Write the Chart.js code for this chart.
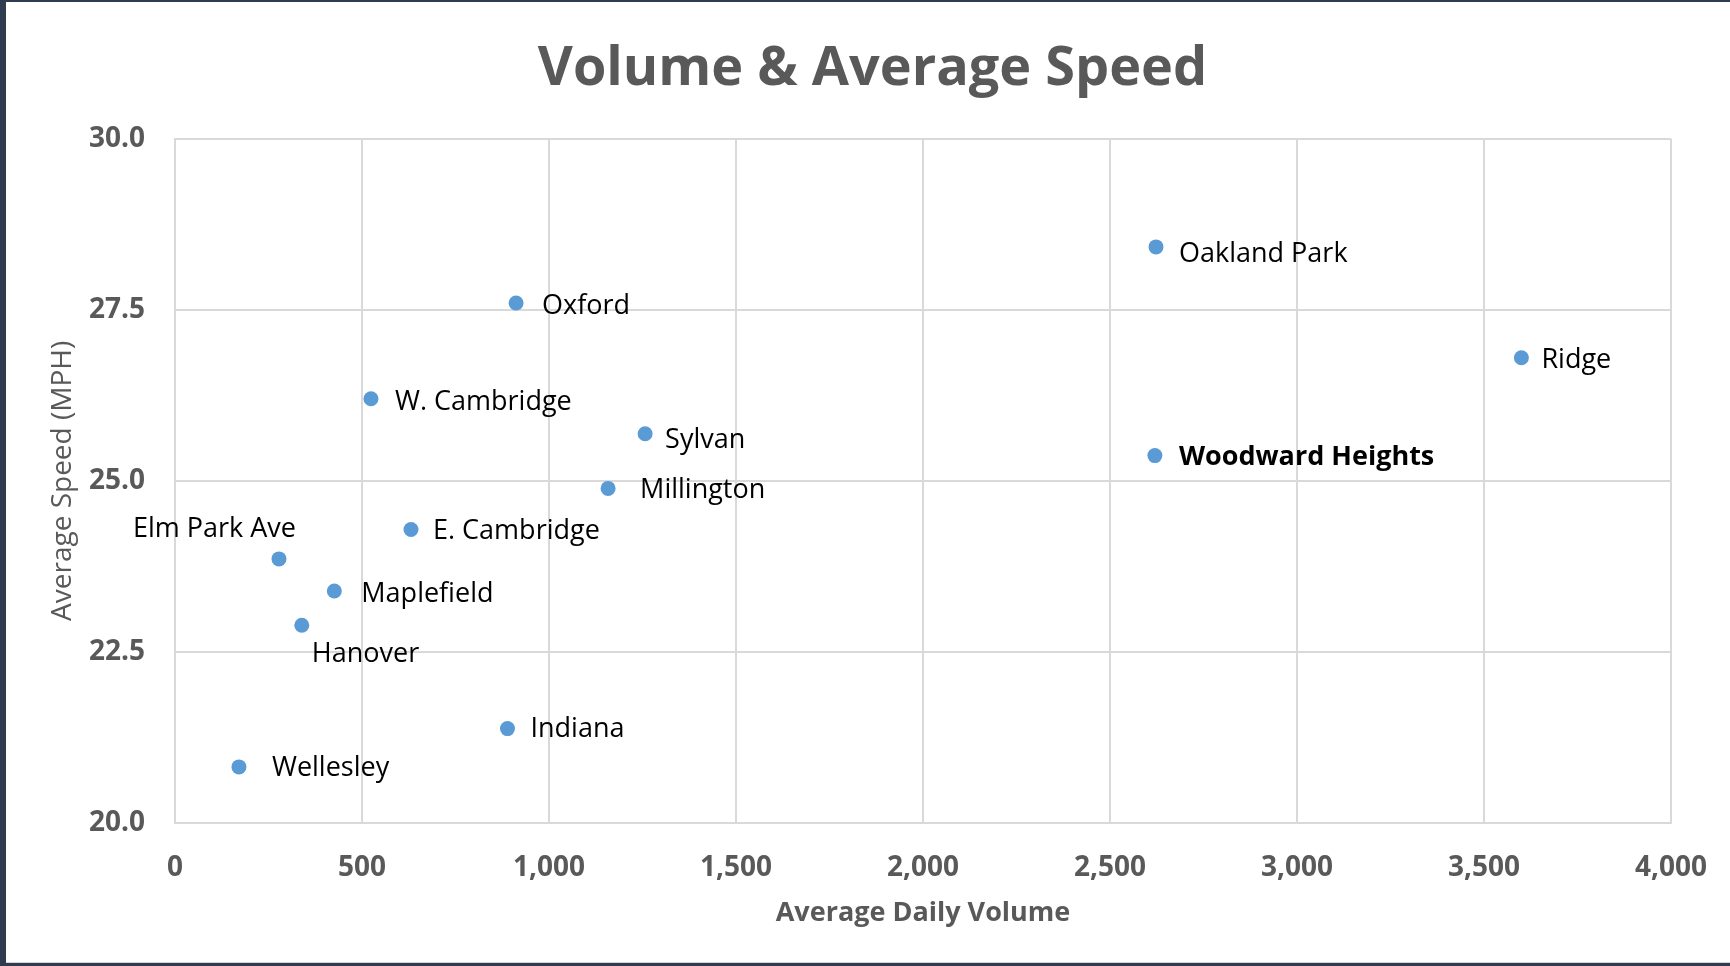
<!DOCTYPE html>
<html>
<head>
<meta charset="utf-8">
<title>Volume & Average Speed</title>
<script src="https://cdn.jsdelivr.net/npm/chart.js@4.4.1/dist/chart.umd.min.js"></script>
<style>
  html, body { margin: 0; padding: 0; }
  body { width: 1730px; height: 966px; background: #2f3b4e; position: relative; overflow: hidden; }
  #frame {
    position: absolute; left: 6px; top: 2px;
    width: 1724px; height: 960px;
    background: #ffffff;
    border-bottom: 1px solid #d4d4d4;
  }
</style>
</head>
<body>
<div id="frame"><canvas id="scatter"></canvas></div>
<script>
// Road segments, daily volume and average speed
const names = ['Wellesley', 'Indiana', 'Oxford', 'W. Cambridge', 'Sylvan', 'Millington',
  'E. Cambridge', 'Oakland Park', 'Woodward Heights', 'Ridge', 'Elm Park Ave', 'Maplefield', 'Hanover'];
const volume = [171, 889, 912, 524, 1257, 1158, 631, 2623, 2620, 3600, 278, 426, 339];
const speed = [20.82, 21.38, 27.60, 26.20, 25.69, 24.89, 24.29, 28.42, 25.37, 26.80, 23.86, 23.39, 22.89];

const xTicks = [0, 500, 1000, 1500, 2000, 2500, 3000, 3500, 4000];
const yTicks = [20.0, 22.5, 25.0, 27.5, 30.0];

const FONT = "'Open Sans', sans-serif";
const GRAY = '#595959';
const GRID = '#d9d9d9';
const DOT = '#5b9bd5';

// where each label sits relative to its dot (px)
const labelPlacement = {
  'Wellesley': { dx: 33, dy: 1 },
  'Indiana': { dx: 23, dy: 1 },
  'Oxford': { dx: 26, dy: 3 },
  'W. Cambridge': { dx: 24, dy: 4 },
  'Sylvan': { dx: 20, dy: 7 },
  'Millington': { dx: 32, dy: 2 },
  'E. Cambridge': { dx: 22, dy: 2 },
  'Oakland Park': { dx: 23, dy: 7 },
  'Woodward Heights': { dx: 24, dy: 2, bold: true },
  'Ridge': { dx: 20, dy: 3 },
  'Elm Park Ave': { dx: 17, dy: -30, align: 'right' },
  'Maplefield': { dx: 27, dy: 3 },
  'Hanover': { dx: 10, dy: 29 }
};

const pointLabels = {
  id: 'pointLabels',
  afterDatasetsDraw(chart) {
    const ctx = chart.ctx;
    const meta = chart.getDatasetMeta(0);
    ctx.save();
    ctx.fillStyle = '#000000';
    ctx.textBaseline = 'middle';
    meta.data.forEach((pt, i) => {
      const p = labelPlacement[names[i]] || { dx: 20, dy: 0 };
      ctx.font = p.bold ? `bold 27px ${FONT}` : `27px ${FONT}`;
      ctx.textAlign = p.align || 'left';
      ctx.fillText(names[i], pt.x + p.dx, pt.y + p.dy);
    });
    ctx.restore();
  }
};

const points = volume.map((v, i) => ({ x: v, y: speed[i] }));

new Chart(document.getElementById('scatter'), {
  type: 'scatter',
  data: {
    datasets: [{
      label: 'Segments',
      data: points,
      backgroundColor: DOT,
      borderWidth: 0,
      pointRadius: 7.5,
      pointHoverRadius: 7.5
    }]
  },
  options: {
    responsive: true,
    maintainAspectRatio: false,
    animation: false,
    layout: { padding: { left: 9, right: 0, top: 0, bottom: 0 } },
    plugins: {
      legend: { display: false },
      tooltip: { enabled: false },
      title: {
        display: true,
        text: 'Volume & Average Speed',
        color: GRAY,
        font: { family: FONT, size: 54, weight: 'bold', lineHeight: 1.2 },
        padding: { top: 35, bottom: 37 }
      }
    },
    scales: {
      x: {
        type: 'linear',
        min: 0,
        max: 4000,
        afterBuildTicks: s => { s.ticks = xTicks.map(v => ({ value: v })); },
        ticks: {
          color: GRAY,
          padding: 2,
          font: { family: FONT, size: 28, weight: 'bold', lineHeight: 1.2 },
          callback: v => v.toLocaleString('en-US')
        },
        // invisible tick marks keep the labels away from the axis
        grid: { color: GRID, lineWidth: 2, drawTicks: true, tickLength: 26, tickColor: 'rgba(0,0,0,0)' },
        border: { color: GRID, width: 2 },
        title: {
          display: true,
          text: 'Average Daily Volume',
          color: GRAY,
          font: { family: FONT, size: 27, weight: 'bold', lineHeight: 1.2 },
          padding: { top: 0, bottom: 32 }
        },
        afterFit: s => { s.height = 139; }
      },
      y: {
        type: 'linear',
        min: 20,
        max: 30,
        afterBuildTicks: s => { s.ticks = yTicks.map(v => ({ value: v })); },
        ticks: {
          color: GRAY,
          padding: 30,
          font: { family: FONT, size: 28, weight: 'bold', lineHeight: 1.2 },
          callback: v => v.toFixed(1)
        },
        grid: { color: GRID, lineWidth: 2, drawTicks: false },
        border: { color: GRID, width: 2 },
        title: {
          display: true,
          text: 'Average Speed (MPH)',
          color: GRAY,
          font: { family: FONT, size: 28, weight: 'normal', lineHeight: 1.2 },
          padding: { top: 31, bottom: 0 }
        },
        afterFit: s => { s.width = 160; }
      },
      yRight: {
        type: 'linear',
        position: 'right',
        display: true,
        ticks: { display: false },
        grid: { display: false },
        border: { display: false },
        afterFit: s => { s.width = 59; }
      }
    }
  },
  plugins: [pointLabels]
});
</script>
</body>
</html>
